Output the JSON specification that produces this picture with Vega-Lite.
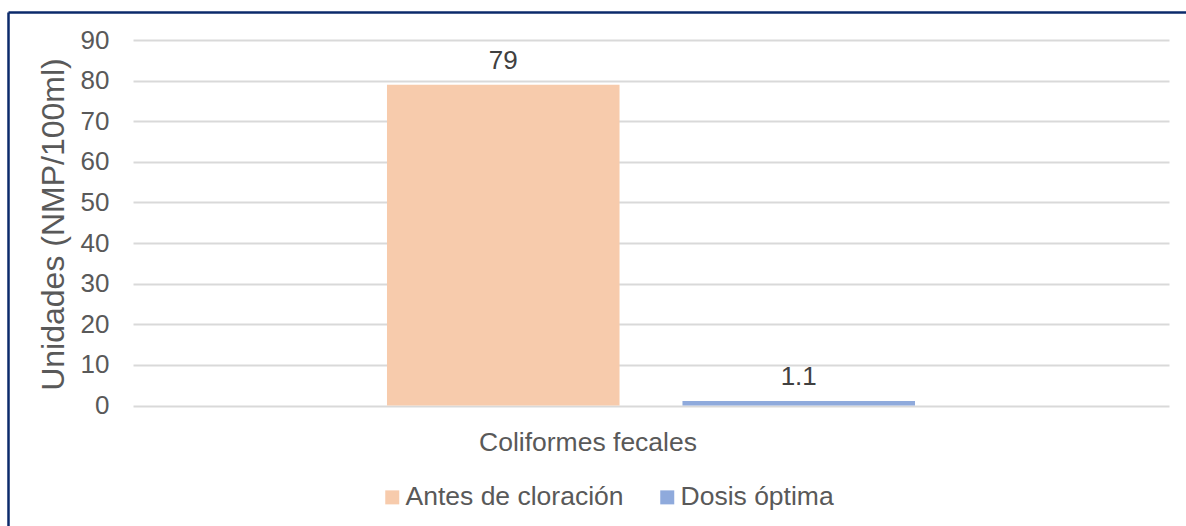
{
  "$schema": "https://vega.github.io/schema/vega-lite/v6.json",
  "width": 1178,
  "height": 514,
  "autosize": {"type": "none"},
  "padding": {"left": 8, "top": 12, "right": 0, "bottom": 0},
  "background": "white",
  "config": {
    "font": "Liberation Sans",
    "view": {"stroke": null},
    "axis": {"labelFont": "Liberation Sans", "titleFont": "Liberation Sans"},
    "legend": {"labelFont": "Liberation Sans"}
  },
  "data": {
    "values": [
      {"parametro": "Coliformes fecales", "serie": "Antes de cloración", "valor": 79},
      {"parametro": "Coliformes fecales", "serie": "Dosis óptima", "valor": 1.1}
    ]
  },
  "layer": [
    {
      "mark": {"type": "point", "opacity": 0},
      "encoding": {
        "x": {
          "datum": 0.5,
          "type": "quantitative",
          "scale": {"domain": [0, 1], "nice": false, "zero": false},
          "axis": {"orient": "top", "offset": 0, "domain": true, "domainColor": "#0B2A6B", "domainWidth": 2.5, "labels": false, "ticks": false, "grid": false, "title": null}
        },
        "y": {
          "datum": 0,
          "type": "quantitative",
          "scale": {"domain": [-29.67, 96.9], "nice": false, "zero": false},
          "axis": {"orient": "left", "offset": 0, "domain": true, "domainColor": "#0B2A6B", "domainWidth": 2.5, "labels": false, "ticks": false, "grid": false, "title": null}
        }
      }
    },
    {
      "encoding": {
        "x": {
          "field": "parametro",
          "type": "nominal",
          "scale": {"range": [125, 1161], "paddingOuter": 0.481, "paddingInner": 0},
          "axis": {"orient": "bottom", "offset": -120.5, "domain": false, "ticks": false, "title": null, "labelAngle": 0, "labelFontSize": 26.5, "labelColor": "#595959", "labelPadding": 24, "labelLimit": 0, "labelOffset": -63}
        },
        "xOffset": {
          "field": "serie",
          "type": "nominal",
          "scale": {"paddingInner": 0.213, "paddingOuter": 0}
        },
        "y": {
          "field": "valor",
          "type": "quantitative",
          "scale": {"domain": [-29.67, 96.9], "nice": false, "zero": false},
          "axis": {
            "orient": "left", "offset": -125, "values": [0, 10, 20, 30, 40, 50, 60, 70, 80, 90],
            "domain": false, "ticks": false, "grid": true, "gridColor": "#D9D9D9", "gridWidth": 2,
            "labelPadding": 24, "labelFontSize": 26, "labelColor": "#595959",
            "title": "Unidades (NMP/100ml)", "titleFontSize": 32, "titleFontWeight": "normal", "titleColor": "#595959", "titlePadding": 10, "titleY": 212
          }
        }
      },
      "layer": [
        {
          "mark": {"type": "bar"},
          "encoding": {
            "y2": {"datum": 0},
            "color": {
              "field": "serie",
              "type": "nominal",
              "scale": {"domain": ["Antes de cloración", "Dosis óptima"], "range": ["#F7CBAC", "#8FAADC"]},
              "legend": {
                "orient": "none", "legendX": 371, "legendY": 472, "direction": "horizontal", "title": null,
                "symbolType": "square", "symbolSize": 196, "symbolStrokeWidth": 0,
                "labelFontSize": 26.5, "labelColor": "#595959", "labelOffset": 0, "labelLimit": 0, "columnPadding": 30, "padding": 0
              }
            }
          }
        },
        {
          "mark": {"type": "text", "baseline": "bottom", "dy": -11, "fontSize": 26, "color": "#404040"},
          "encoding": {
            "text": {"field": "valor", "type": "quantitative"}
          }
        }
      ]
    }
  ],
  "resolve": {
    "scale": {"x": "independent", "y": "independent"},
    "axis": {"x": "independent", "y": "independent"}
  }
}
